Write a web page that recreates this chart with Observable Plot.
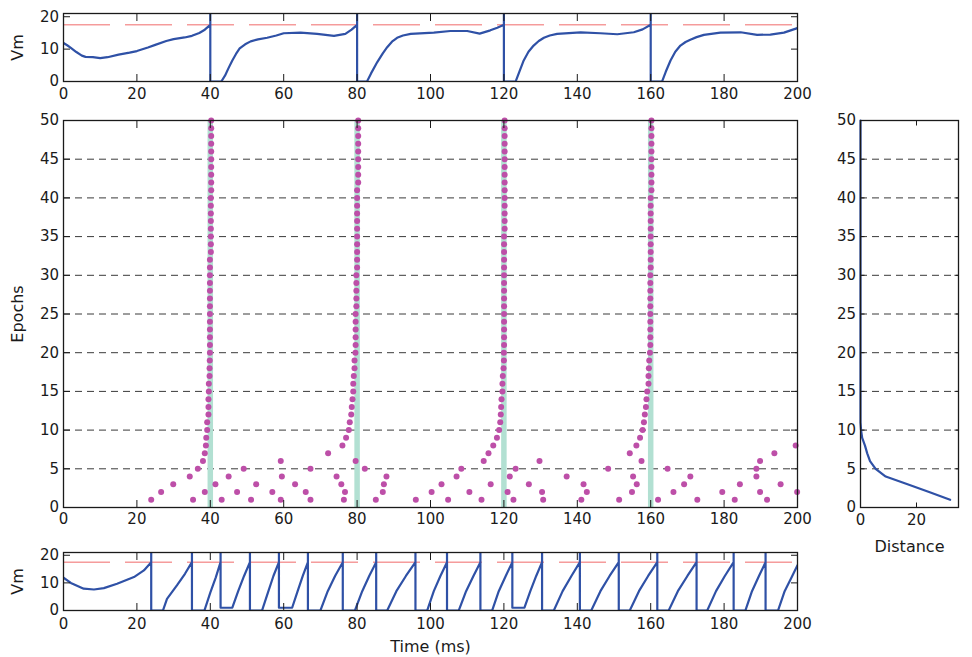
<!DOCTYPE html>
<html>
<head>
<meta charset="utf-8">
<script src="https://cdn.jsdelivr.net/npm/d3@7"></script>
<script src="https://cdn.jsdelivr.net/npm/@observablehq/plot@0.6"></script>
<style>
  body { margin: 0; background: #fff; }
  #c { position: relative; width: 972px; height: 657px; background: #fff; overflow: hidden; }
  #c svg { position: absolute; }
  #c [aria-label$="axis label"] { font-size: 16px; }
</style>
</head>
<body>
<div id="c"></div>
<script>
// ---------- data ----------
// Membrane potential, learned pattern (top): [time ms, Vm]
const vmTop = [
  [0,11.9],[1,11.2],[2,10.4],[3.5,9.1],[5,8],[6,7.6],[8,7.5],[10,7.2],[12,7.5],[15,8.3],[18,8.9],[20,9.4],[23,10.5],[25,11.3],[28,12.5],[30,13.1],[33,13.6],[35,14.1],[37,15],[38.5,16],[40,17.5],
  [40,21],[40,0],[43,0],[44,1.8],[45,4.2],[46,6.5],[47,8.5],[48,10.2],[49.5,11.5],[51,12.4],[53,13],[55.5,13.5],[58,14.2],[60,14.9],[64.6,15.1],[69.1,14.7],[73.7,14.1],[76.8,14.7],[78.5,16],[80,17.5],
  [80,21],[80,0],[82.7,0],[83.8,2.5],[85.5,6],[87,8.7],[88.2,10.6],[89.5,12.3],[90.9,13.5],[92.5,14.2],[94.6,14.7],[100.9,15.1],[105.4,15.6],[110,15.6],[113.4,14.8],[116.3,15.8],[118.2,16.6],[120,17.5],
  [120,21],[120,0],[123.2,0],[124.2,3],[125.4,6.5],[126.7,9.2],[128.1,11.1],[129.5,12.5],[130.9,13.5],[132.5,14.2],[134.5,14.7],[140.9,15.2],[146.3,14.9],[150.9,14.6],[155.4,15.2],[157.8,16.1],[160,17.5],
  [160,21],[160,0],[163.1,0],[164.1,3],[165.4,6.5],[166.7,9.2],[168.1,11.1],[169.5,12.2],[170.8,12.9],[172.5,13.7],[174.5,14.4],[179,15.1],[184.5,15.2],[189,14.4],[192.6,14.5],[196.3,15.1],[200,16.5]
];
// Membrane potential, initial epoch (bottom): [time ms, Vm]
const vmBottom = [
  [0,11.9],[2,10],[5.5,7.9],[8.3,7.6],[11,8.1],[14.6,9.7],[19.2,12.1],[21.9,14.5],[23.9,17.5],[23.9,21],[23.9,0],
  [27.1,0],[28.2,4.2],[30.9,9.1],[33.1,13.3],[35,17.5],[35,21],[35,0],
  [38.4,0],[40,6.5],[41.5,12],[42.8,17.5],[42.8,21],[42.8,1],
  [46,1],[47.6,7],[49.2,12.5],[50.8,17.5],[50.8,21],[50.8,0],
  [54.1,0],[55.7,6.5],[57.2,12.5],[58.7,17.5],[58.7,21],[58.7,1],
  [62.3,1],[63.8,7],[65.2,12.5],[66.6,17.5],[66.6,21],[66.6,0],
  [70,0],[72,7],[74,12.5],[76.1,17.5],[76.1,21],[76.1,0],
  [79.4,0],[81.4,7],[83.3,12.5],[85.2,17.5],[85.2,21],[85.2,0],
  [88.2,0],[90.7,7],[93.3,12.5],[95.9,17.5],[95.9,21],[95.9,0],
  [99.1,0],[100.9,7],[102.7,12.5],[104.5,17.5],[104.5,21],[104.5,0],
  [107.7,0],[109.7,7],[111.7,12.5],[113.6,17.5],[113.6,21],[113.6,0],
  [116.8,0],[118.6,7],[120.5,12.5],[122.3,17.5],[122.3,21],[122.3,1],
  [125.6,1],[127.2,7],[128.8,12.5],[130.4,17.5],[130.4,21],[130.4,0],
  [133.6,0],[136,7],[138.4,12.5],[140.7,17.5],[140.7,21],[140.7,0],
  [143.8,0],[146.3,7],[148.8,12.5],[151.3,17.5],[151.3,21],[151.3,0],
  [154.3,0],[156.8,7],[159.3,12.5],[161.8,17.5],[161.8,21],[161.8,0],
  [164.9,0],[167.4,7],[170,12.5],[172.5,17.5],[172.5,21],[172.5,0],
  [175.4,0],[177.8,7],[180.2,12.5],[182.6,17.5],[182.6,21],[182.6,0],
  [185.8,0],[187.6,7],[189.5,12.5],[191.3,17.5],[191.3,21],[191.3,0],
  [194.7,0],[196.5,7],[198.4,12],[200,16.4]
];
const threshold = 17.5;

// Spike times per epoch, epochs 1..9
const earlyEpochTimes = [
  [23.9, 35.3, 43.1, 51.1, 59.2, 67.3, 76.4, 85.1, 96.0, 104.8, 113.9, 122.6, 130.7, 141.1, 151.4, 162.0, 172.7, 182.9, 191.7],
  [26.6, 38.5, 47.3, 56.9, 66.0, 76.7, 87.0, 100.3, 110.6, 121.0, 130.4, 142.6, 154.9, 166.2, 179.5, 189.8, 199.9],
  [29.9, 41.4, 52.5, 63.1, 75.7, 87.3, 103.0, 116.4, 126.8, 141.7, 156.2, 169.1, 184.3, 195.4],
  [34.4, 45.0, 59.5, 74.4, 88.0, 107.1, 121.6, 137.1, 155.2, 170.8, 188.8],
  [36.6, 49.1, 67.3, 82.1, 108.4, 123.2, 148.4, 164.6, 188.8],
  [38.0, 59.2, 79.6, 114.5, 129.7, 157.5, 189.8],
  [38.5, 72.1, 115.8, 154.3, 193.7],
  [38.8, 76.0, 117.1, 156.1, 199.5],
  [38.9, 77.0, 118.1, 157.1]
];
// Spike times for epochs 10..50 around each target spike
const chain40 = [39.15,39.15,39.5,39.5,39.5,39.6,39.6,39.8,39.8,39.85,39.9,
  39.9,39.9,39.9,39.9,39.9,39.9,39.9,39.9,39.9,39.9,39.9,39.9,
  40.15,40.15,40.15,40.15,40.15,40.15,40.15,40.15,
  40.25,40.25,40.25,40.25,40.25,40.25,40.25,40.25,40.25,40.25];
const chain80 = [77.75,78.0,78.4,78.55,78.75,78.95,78.95,79.1,79.3,79.3,79.55,
  79.6,79.6,79.6,79.6,79.6,
  79.8,79.8,79.8,79.8,79.8,
  80.0,80.0,80.0,80.0,80.0,80.0,80.0,80.0,80.0,80.0,80.0,
  80.3,80.3,80.3,80.3,80.3,80.3,80.3,80.3,80.3];
const chain120 = [118.7,119.0,119.15,119.25,119.35,119.6,119.6,119.7,119.9,120.0,120.0,
  120.05,120.05,120.05,120.05,120.05,120.05,120.05,120.05,120.05,120.05,120.05,120.05,120.05,120.05,120.05,
  120.2,120.2,120.2,120.2,120.2,120.2,120.2,120.2,120.2,120.2,120.2,120.2,120.2,120.2,120.2];
const chain160 = [157.8,158.15,158.4,158.7,158.85,159.05,159.4,159.4,159.5,159.6,159.8,
  159.9,159.9,159.9,159.9,159.9,159.9,159.9,159.9,159.9,159.9,
  160.0,160.0,160.0,160.0,160.0,160.0,160.0,160.0,160.0,160.0,
  160.2,160.2,160.2,160.2,160.2,160.2,160.2,160.2,160.2,160.2];
const chainFirstEpoch = 10;
const targetSpikes = [40, 80, 120, 160];

// Distance per epoch (1..50)
const distance = [32, 24.5, 16.8, 9.0, 5.4, 3.4, 2.4, 1.6, 0.6, 0.2,
  0, 0, 0, 0, 0, 0, 0, 0, 0, 0,
  0, 0, 0, 0, 0, 0, 0, 0, 0, 0,
  0, 0, 0, 0, 0, 0, 0, 0, 0, 0,
  0, 0, 0, 0, 0, 0, 0, 0, 0, 0];

// ticks / grid
const timeTicks = [0, 20, 40, 60, 80, 100, 120, 140, 160, 180, 200];
const vmTicks = [0, 10, 20];
const epochTicks = [0, 5, 10, 15, 20, 25, 30, 35, 40, 45, 50];
const epochGrid = [5, 10, 15, 20, 25, 30, 35, 40, 45];
const distTicks = [0, 20];

// ---------- build tables ----------
const dots = [];
earlyEpochTimes.forEach((ts, i) => ts.forEach(t => dots.push({t, epoch: i + 1})));
[chain40, chain80, chain120, chain160].forEach(ch => ch.forEach((t, i) => dots.push({t, epoch: chainFirstEpoch + i})));
const distRows = distance.map((d, i) => ({d, epoch: i + 1}));

// ---------- styling ----------
const BLUE = "#2f51a6", RED = "#f06a6a", MAGENTA = "#bd4fa8", TEAL = "#b2e0d2", INK = "#1a1a1a";

function panel(o) {
  const p = Plot.plot({
    width: o.width, height: o.height,
    marginTop: o.mt, marginRight: o.mr, marginBottom: o.mb, marginLeft: o.ml,
    x: {domain: o.xDomain},
    y: {domain: o.yDomain},
    style: {fontFamily: '"DejaVu Sans", sans-serif', fontSize: "15px", background: "transparent", overflow: "visible", color: INK},
    marks: [
      ...o.marks,
      Plot.axisX(o.xTicks, {anchor: "bottom", tickSize: -o.tick, tickPadding: o.tick + o.xPad, label: o.xLabel ?? null, labelAnchor: "center", labelArrow: "none", labelOffset: o.xLabelOffset}),
      Plot.axisX(o.xTicks, {anchor: "top", tickSize: -o.tick, tickFormat: () => "", label: null}),
      Plot.axisY(o.yTicks, {anchor: "left", tickSize: -o.tick, tickPadding: o.tick + o.yPad, label: o.yLabel ?? null, labelAnchor: "center", labelArrow: "none", labelOffset: o.yLabelOffset}),
      Plot.axisY(o.yTicks, {anchor: "right", tickSize: -o.tick, tickFormat: () => "", label: null}),
      Plot.frame({stroke: INK, strokeWidth: 1.3})
    ]
  });
  p.style.left = o.left + "px";
  p.style.top = o.top + "px";
  document.getElementById("c").appendChild(p);
}

function vmMarks(data) {
  return [
    Plot.ruleY([threshold], {stroke: RED, strokeWidth: 1, strokeDasharray: "47,15"}),
    Plot.line(data, {x: d => d[0], y: d => d[1], stroke: BLUE, strokeWidth: 2.2, strokeLinejoin: "round", clip: true})
  ];
}

// top
panel({left: 0, top: 0, width: 810, height: 105, mt: 13, mr: 13, mb: 24, ml: 63,
  xDomain: [0, 200], yDomain: [0, 21], xTicks: timeTicks, yTicks: vmTicks, tick: 7, xPad: 7, yPad: 4.5,
  yLabel: "Vm", yLabelOffset: 52, marks: vmMarks(vmTop)});

// main raster
panel({left: 0, top: 105, width: 810, height: 430, mt: 15, mr: 13, mb: 28, ml: 63,
  xDomain: [0, 200], yDomain: [0, 50], xTicks: timeTicks, yTicks: epochTicks, tick: 7, xPad: 6, yPad: 4.5,
  yLabel: "Epochs", yLabelOffset: 52,
  marks: [
    Plot.ruleY(epochGrid, {stroke: "#3a3a3a", strokeWidth: 1, strokeDasharray: "7,5"}),
    Plot.ruleX(targetSpikes, {stroke: TEAL, strokeWidth: 5.5}),
    Plot.dot(dots, {x: "t", y: "epoch", r: 3, fill: MAGENTA, stroke: null})
  ]});

// right distance
panel({left: 810, top: 105, width: 162, height: 452, mt: 15, mr: 14, mb: 50, ml: 50,
  xDomain: [0, 35], yDomain: [0, 50], xTicks: distTicks, yTicks: epochTicks, tick: 4.5, xPad: 7, yPad: 4.5,
  xLabel: "Distance", xLabelOffset: 44,
  marks: [
    Plot.ruleY(epochGrid, {stroke: "#3a3a3a", strokeWidth: 1, strokeDasharray: "7,5"}),
    Plot.line(distRows, {x: "d", y: "epoch", stroke: BLUE, strokeWidth: 2.2, strokeLinejoin: "round"})
  ]});

// bottom
panel({left: 0, top: 535, width: 810, height: 122, mt: 17, mr: 13, mb: 47, ml: 63,
  xDomain: [0, 200], yDomain: [0, 21], xTicks: timeTicks, yTicks: vmTicks, tick: 7, xPad: 8, yPad: 4.5,
  xLabel: "Time (ms)", xLabelOffset: 41, yLabel: "Vm", yLabelOffset: 52, marks: vmMarks(vmBottom)});
</script>
</body>
</html>
